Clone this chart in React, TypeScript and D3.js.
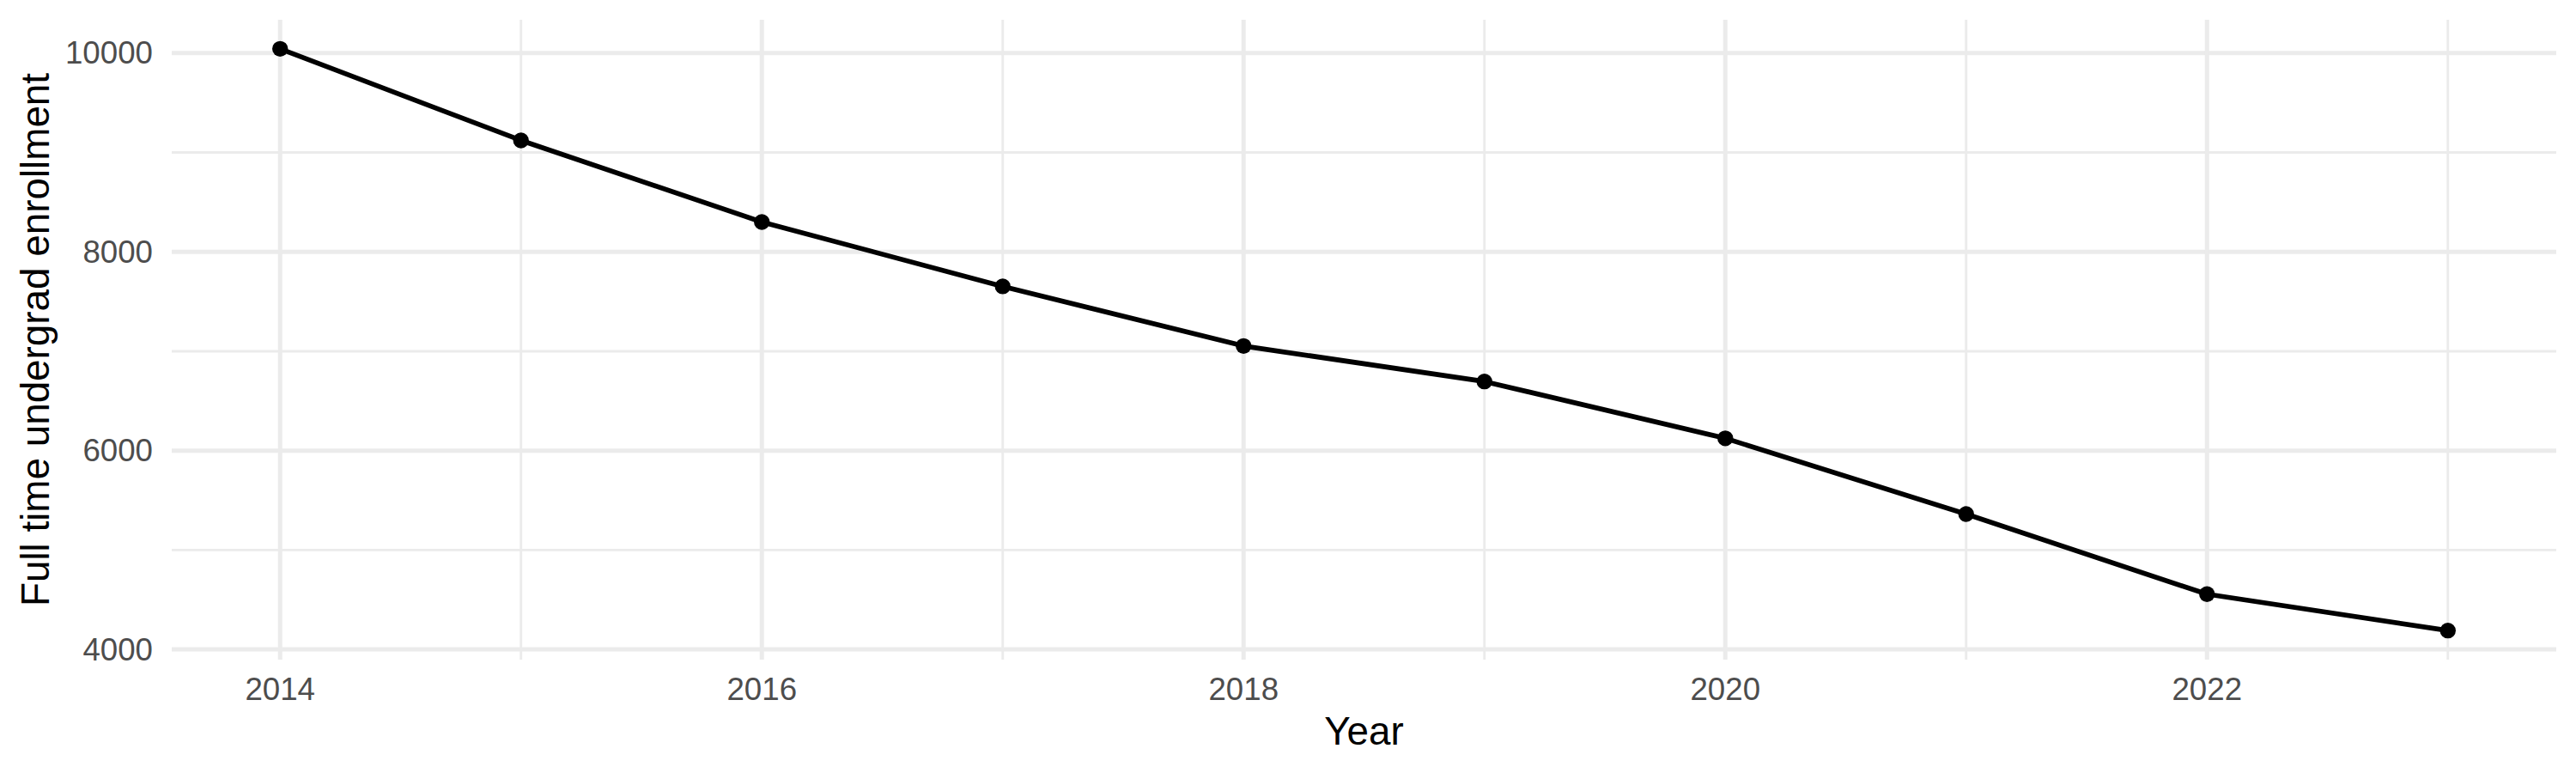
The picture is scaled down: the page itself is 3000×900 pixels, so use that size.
import React from "react";
import * as d3 from "d3";

const years = [2014, 2015, 2016, 2017, 2018, 2019, 2020, 2021, 2022, 2023];
const enrollment = [10043, 9122, 8301, 7653, 7053, 6696, 6124, 5362, 4556, 4190];
const yMajorTicks = [4000, 6000, 8000, 10000];
const yMinorTicks = [5000, 7000, 9000];
const xMajorTicks = [2014, 2016, 2018, 2020, 2022];
const xMinorTicks = [2015, 2017, 2019, 2021, 2023];
const xTitle = "Year";
const yTitle = "Full time undergrad enrollment";

const W = 3000;
const H = 900;
const left = 200;
const right = 2977;
const top = 23;
const bottom = 768;

export default function App() {
  const xMin = d3.min(years)!;
  const xMax = d3.max(years)!;
  const xPad = (xMax - xMin) * 0.05;
  const yMin = d3.min(enrollment)!;
  const yMax = d3.max(enrollment)!;
  const yPad = (yMax - yMin) * 0.05;

  const x = d3.scaleLinear().domain([xMin - xPad, xMax + xPad]).range([left, right]);
  const y = d3.scaleLinear().domain([yMin - yPad, yMax + yPad]).range([bottom, top]);

  const data = years.map((yr, i) => ({ yr, v: enrollment[i] }));
  const line = d3
    .line<{ yr: number; v: number }>()
    .x((d) => x(d.yr))
    .y((d) => y(d.v));

  const grid = "#EBEBEB";
  const font = "'Liberation Sans', Arial, Helvetica, sans-serif";

  return (
    <svg
      width={W}
      height={H}
      style={{ position: "absolute", left: 0, top: 0, display: "block", background: "#fff" }}
      fontFamily={font}
    >
      <rect x={0} y={0} width={W} height={H} fill="#fff" />
      {/* minor grid */}
      {yMinorTicks.map((t) => (
        <line key={"ym" + t} x1={left} x2={right} y1={y(t)} y2={y(t)} stroke={grid} strokeWidth={2.9} />
      ))}
      {xMinorTicks.map((t) => (
        <line key={"xm" + t} x1={x(t)} x2={x(t)} y1={top} y2={bottom} stroke={grid} strokeWidth={2.9} />
      ))}
      {/* major grid */}
      {yMajorTicks.map((t) => (
        <line key={"yM" + t} x1={left} x2={right} y1={y(t)} y2={y(t)} stroke={grid} strokeWidth={5} />
      ))}
      {xMajorTicks.map((t) => (
        <line key={"xM" + t} x1={x(t)} x2={x(t)} y1={top} y2={bottom} stroke={grid} strokeWidth={5} />
      ))}
      {/* line */}
      <path d={line(data) || ""} fill="none" stroke="#000" strokeWidth={5.7} strokeLinejoin="round" />
      {data.map((d) => (
        <circle key={d.yr} cx={x(d.yr)} cy={y(d.v)} r={9.2} fill="#000" />
      ))}
      {/* y tick labels */}
      {yMajorTicks.map((t) => (
        <text
          key={"yl" + t}
          x={178}
          y={y(t)}
          textAnchor="end"
          dominantBaseline="central"
          fontSize={36.7}
          fill="#4D4D4D"
        >
          {t}
        </text>
      ))}
      {/* x tick labels */}
      {xMajorTicks.map((t) => (
        <text key={"xl" + t} x={x(t)} y={815} textAnchor="middle" fontSize={36.7} fill="#4D4D4D">
          {t}
        </text>
      ))}
      <text x={(left + right) / 2} y={867} textAnchor="middle" fontSize={45.8} fill="#000">
        {xTitle}
      </text>
      <text
        transform={`translate(56.6, ${(top + bottom) / 2}) rotate(-90)`}
        textAnchor="middle"
        fontSize={45.8}
        fill="#000"
      >
        {yTitle}
      </text>
    </svg>
  );
}
